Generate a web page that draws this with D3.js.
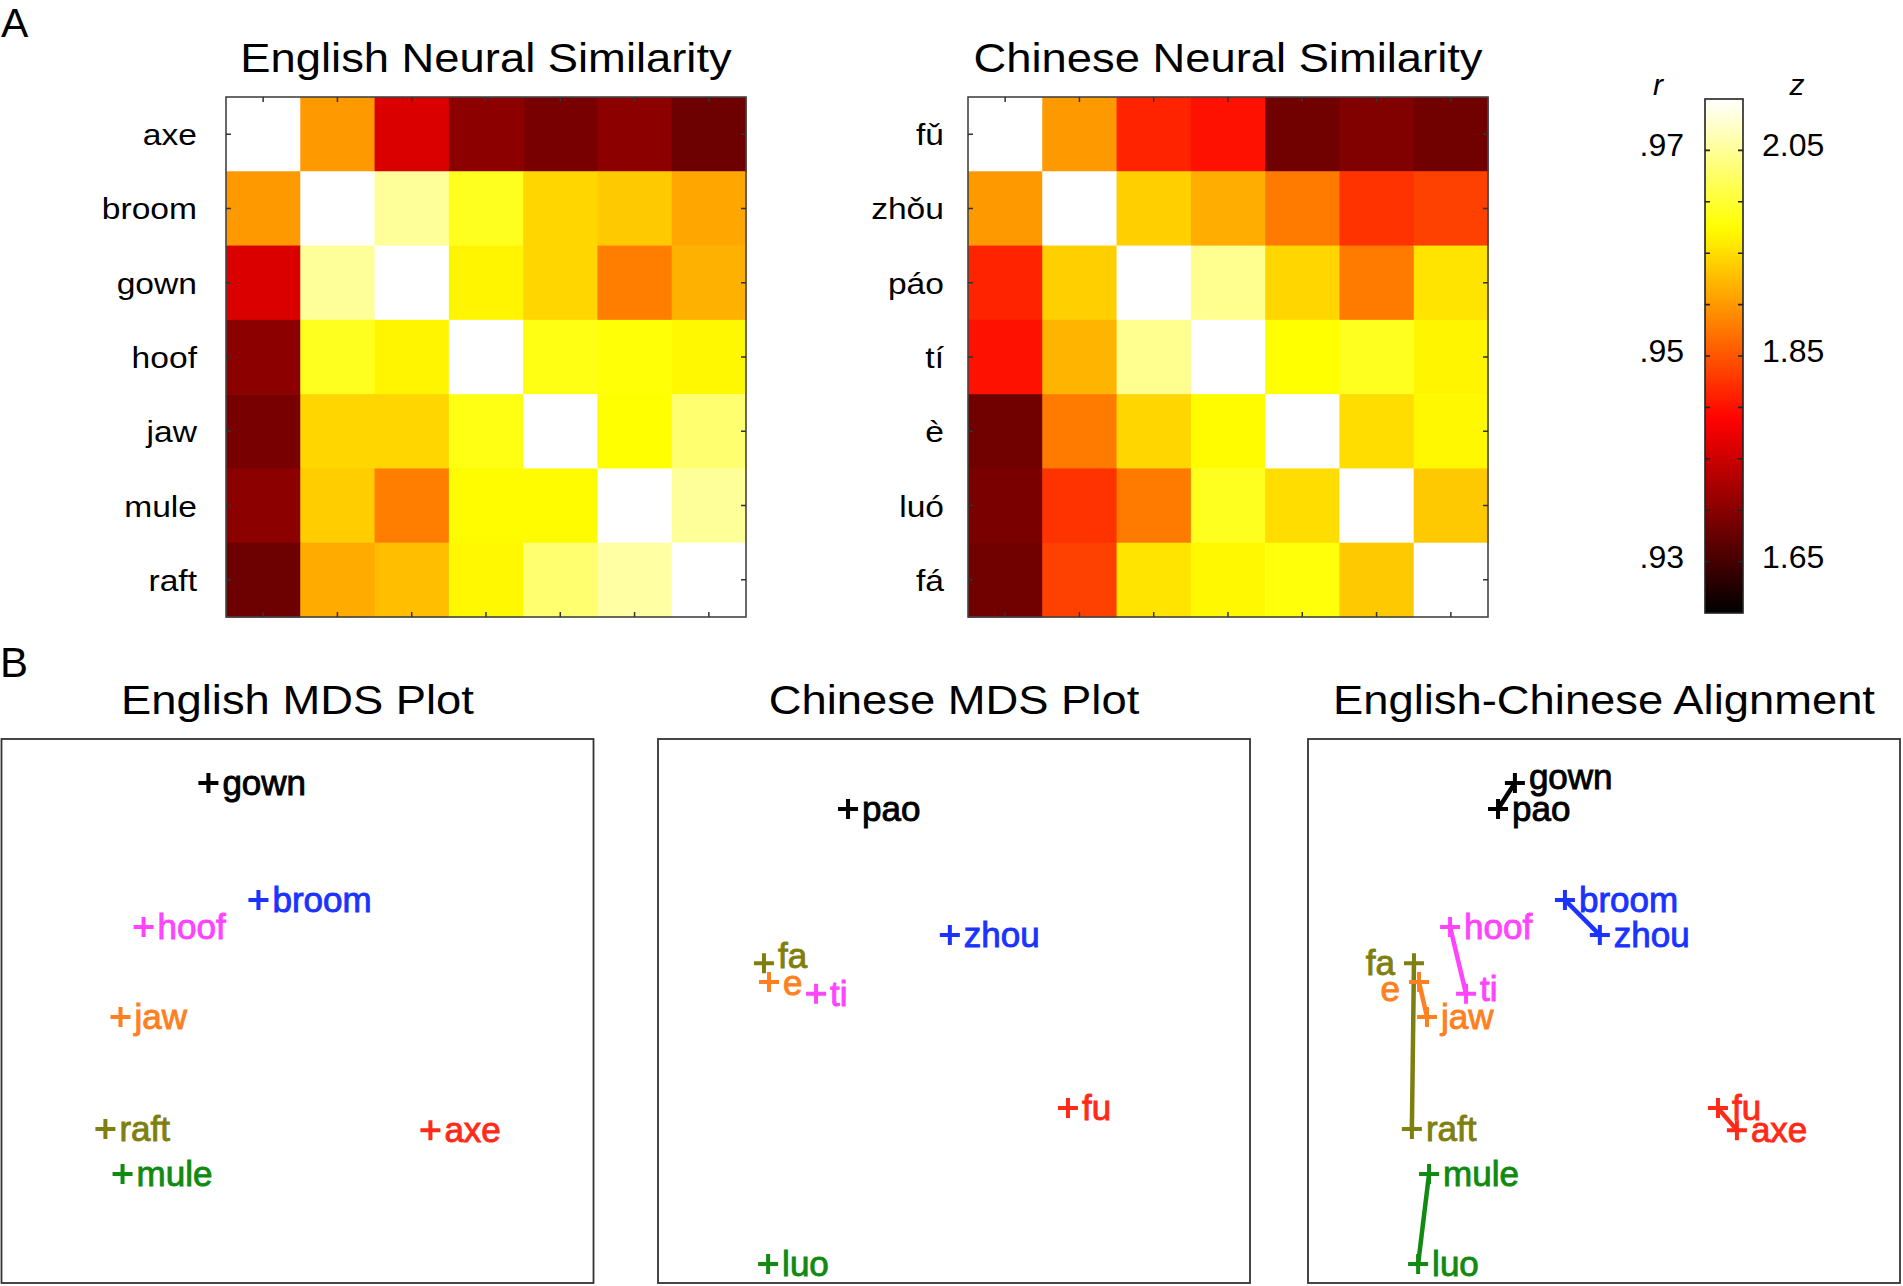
<!DOCTYPE html>
<html><head><meta charset="utf-8">
<script src="https://cdn.jsdelivr.net/npm/d3@7"></script>
<style>
body{margin:0;background:#fff}
svg{display:block}
text{font-family:"Liberation Sans", Arial, Helvetica, sans-serif}
</style>
</head><body>
<svg id="c" width="1903" height="1286"></svg>
<script>
// ---------------- DATA ----------------
const englishWords = ["axe","broom","gown","hoof","jaw","mule","raft"];
const chineseWords = ["fǔ","zhǒu","páo","tí","è","luó","fá"];

// neural similarity (r); diagonal = 1 (self)
const englishR = [
  [1,     .955,  .941,  .9353, .9338, .9353, .933 ],
  [.955,  1,     .970,  .964,  .9595, .9585, .956 ],
  [.941,  .970,  1,     .9618, .9595, .953,  .9568],
  [.9353, .964,  .9618, 1,     .9635, .9628, .962 ],
  [.9338, .9595, .9595, .9635, 1,     .9625, .968 ],
  [.9353, .9588, .953,  .9623, .9623, 1,     .970 ],
  [.933,  .9563, .9578, .962,  .968,  .9705, 1    ]
];
const chineseR = [
  [1,     .955,  .9463, .945,  .9333, .9345, .9333],
  [.955,  1,     .959,  .9565, .9528, .9475, .9485],
  [.9463, .959,  1,     .9695, .9595, .9528, .9605],
  [.945,  .957,  .9695, 1,     .9625, .964,  .9618],
  [.9333, .9528, .9595, .9623, 1,     .960,  .962 ],
  [.934,  .9475, .9528, .964,  .960,  1,     .9585],
  [.9333, .9485, .9605, .962,  .963,  .9585, 1    ]
];

const colorbarDomain = [.925, .975];
const rMinorTicks = [.93, .935, .94, .945, .95, .955, .96, .965, .97];
const rLabelValues = [.97, .95, .93];
const rTickLabels = [".97", ".95", ".93"];
const zTickLabels = ["2.05", "1.85", "1.65"];

// MDS (paired order: English word <-> Chinese translation)
const mdsEnglishWords = ["gown","broom","hoof","jaw","raft","mule","axe"];
const mdsEnglishX = [-0.301, -0.132, -0.520, -0.598, -0.649, -0.591,  0.449];
const mdsEnglishY = [ 0.838,  0.408,  0.309, -0.022, -0.434, -0.599, -0.438];
const mdsChineseWords = ["pao","zhou","ti","e","fa","luo","fu"];
const mdsChineseX = [-0.358, -0.014, -0.466, -0.625, -0.642, -0.628,  0.385];
const mdsChineseY = [ 0.743,  0.279,  0.063,  0.107,  0.176, -0.930, -0.357];
const pairColors = ["#000000","#1a33ff","#ff44ff","#ff8020","#7f7f10","#118a11","#ff2a18"];
const alignLeftLabels = ["fa","e"];

// ---------------- DRAWING ----------------
const svg = d3.select("#c");
const hot = d3.scaleLinear().domain([0, 3/8, 6/8, 1])
  .range(["#000000","#ff0000","#ffff00","#ffffff"]).clamp(true);
const rToT = d3.scaleLinear().domain(colorbarDomain).range([0,1]).clamp(true);
const rColor = r => hot(rToT(r));
const SX = 1.12; // horizontal stretch of the figure's headings

function stretchedText(g, x, y, str, size, anchor){
  return g.append("text")
    .attr("transform", `translate(${x},${y}) scale(${SX},1)`)
    .attr("text-anchor", anchor || "middle")
    .attr("font-size", size)
    .attr("fill", "#000")
    .text(str);
}

// panel letters
svg.append("text").attr("x", 1).attr("y", 37).attr("font-size", 41).text("A");
svg.append("text").attr("x", 0).attr("y", 677).attr("font-size", 42).text("B");

function heatmap(x0, y0, size, words, matrix, title, labelRight){
  const g = svg.append("g");
  const idx = d3.range(words.length);
  const xs = d3.scaleBand().domain(idx).range([x0, x0 + size]);
  const ys = d3.scaleBand().domain(idx).range([y0, y0 + size]);
  const bw = xs.bandwidth();
  const cells = [];
  matrix.forEach((row, i) => row.forEach((v, j) => cells.push({i, j, v})));
  g.selectAll("rect.cell").data(cells).join("rect")
    .attr("class", "cell")
    .attr("x", d => xs(d.j)).attr("y", d => ys(d.i))
    .attr("width", bw + 0.6).attr("height", bw + 0.6)
    .attr("fill", d => rColor(d.v));
  g.append("rect").attr("x", x0).attr("y", y0).attr("width", size).attr("height", size)
    .attr("fill", "none").attr("stroke", "#444").attr("stroke-width", 1.6);
  const tl = 5;
  idx.forEach(k => {
    const c = xs(k) + bw / 2;
    const r = ys(k) + bw / 2;
    const p = `M${c},${y0}V${y0+tl}M${c},${y0+size}V${y0+size-tl}` +
              `M${x0},${r}H${x0+tl}M${x0+size},${r}H${x0+size-tl}`;
    g.append("path").attr("d", p).attr("stroke", "#333").attr("stroke-width", 1.5);
  });
  idx.forEach(k => {
    stretchedText(g, labelRight, ys(k) + bw / 2 + 11, words[k], 30, "end");
  });
  stretchedText(g, x0 + size / 2, 72, title, 40.5, "middle");
}

heatmap(226, 97, 520, englishWords, englishR, "English Neural Similarity", 197);
heatmap(968, 97, 520, chineseWords, chineseR, "Chinese Neural Similarity", 944);

// colorbar
(function(){
  const x0 = 1705, w = 38, top = 99, bot = 613;
  const y = d3.scaleLinear().domain(colorbarDomain).range([bot, top]);
  const defs = svg.append("defs");
  const grad = defs.append("linearGradient").attr("id", "hotgrad")
    .attr("x1", 0).attr("y1", 1).attr("x2", 0).attr("y2", 0);
  d3.range(0, 1.0001, 0.02).forEach(t => grad.append("stop")
    .attr("offset", t).attr("stop-color", hot(t)));
  svg.append("rect").attr("x", x0).attr("y", top).attr("width", w).attr("height", bot - top)
    .attr("fill", "url(#hotgrad)").attr("stroke", "#222").attr("stroke-width", 1.6);
  const g = svg.append("g");
  g.selectAll("path.t").data(rMinorTicks).join("path")
    .attr("d", d => `M${x0},${y(d)}h5M${x0+w},${y(d)}h-5`)
    .attr("stroke", "#222").attr("stroke-width", 1.6);
  rLabelValues.forEach((v, k) => {
    g.append("text").attr("x", 1684).attr("y", y(v) + 6).attr("text-anchor", "end")
      .attr("font-size", 32).text(rTickLabels[k]);
    g.append("text").attr("x", 1762).attr("y", y(v) + 6).attr("text-anchor", "start")
      .attr("font-size", 32).text(zTickLabels[k]);
  });
  g.append("text").attr("x", 1658).attr("y", 95).attr("text-anchor", "middle")
    .attr("font-size", 30).attr("font-style", "italic").text("r");
  g.append("text").attr("x", 1797).attr("y", 95).attr("text-anchor", "middle")
    .attr("font-size", 30).attr("font-style", "italic").text("z");
})();

// MDS panels
const boxTop = 739, boxW = 592, boxH = 544;
const boxLefts = [1.5, 658, 1308];
const panelTitles = ["English MDS Plot", "Chinese MDS Plot", "English-Chinese Alignment"];
// small vertical label nudges (label placement, as in the original figure)
const labelNudge = [{}, {fa: -7, e: 1}, {gown: -6, e: 7, ti: -5}];

function plus(g, x, y, color){
  g.append("path").attr("d", `M${x-10},${y}H${x+10}M${x},${y-10}V${y+10}`)
    .attr("stroke", color).attr("stroke-width", 4).attr("fill", "none");
}
function label(g, x, y, str, color, left, dy){
  g.append("text").attr("x", left ? x - 19 : x + 14).attr("y", y + 12 + (dy || 0))
    .attr("text-anchor", left ? "end" : "start")
    .attr("font-size", 35).attr("fill", color)
    .attr("stroke", color).attr("stroke-width", 0.9)
    .text(str);
}

boxLefts.forEach((bx, p) => {
  const g = svg.append("g");
  g.append("rect").attr("x", bx).attr("y", boxTop).attr("width", boxW).attr("height", boxH)
    .attr("fill", "none").attr("stroke", "#333").attr("stroke-width", 1.8);
  stretchedText(g, bx + boxW / 2, 714, panelTitles[p], 40.5, "middle");
  const xs = d3.scaleLinear().domain([-1, 1]).range([bx, bx + boxW]);
  const ys = d3.scaleLinear().domain([-1, 1]).range([boxTop + boxH, boxTop]);
  const nudge = labelNudge[p];
  if (p === 0) {
    mdsEnglishWords.forEach((w, i) => {
      plus(g, xs(mdsEnglishX[i]), ys(mdsEnglishY[i]), pairColors[i]);
      label(g, xs(mdsEnglishX[i]), ys(mdsEnglishY[i]), w, pairColors[i], false, nudge[w]);
    });
  } else if (p === 1) {
    mdsChineseWords.forEach((w, i) => {
      plus(g, xs(mdsChineseX[i]), ys(mdsChineseY[i]), pairColors[i]);
      label(g, xs(mdsChineseX[i]), ys(mdsChineseY[i]), w, pairColors[i], false, nudge[w]);
    });
  } else {
    mdsEnglishWords.forEach((w, i) => {
      g.append("line")
        .attr("x1", xs(mdsEnglishX[i])).attr("y1", ys(mdsEnglishY[i]))
        .attr("x2", xs(mdsChineseX[i])).attr("y2", ys(mdsChineseY[i]))
        .attr("stroke", pairColors[i]).attr("stroke-width", 4.5);
    });
    mdsEnglishWords.forEach((w, i) => {
      plus(g, xs(mdsEnglishX[i]), ys(mdsEnglishY[i]), pairColors[i]);
      plus(g, xs(mdsChineseX[i]), ys(mdsChineseY[i]), pairColors[i]);
      label(g, xs(mdsEnglishX[i]), ys(mdsEnglishY[i]), w, pairColors[i], false, nudge[w]);
      const c = mdsChineseWords[i];
      label(g, xs(mdsChineseX[i]), ys(mdsChineseY[i]), c, pairColors[i],
            alignLeftLabels.includes(c), nudge[c]);
    });
  }
});
</script>
</body></html>
